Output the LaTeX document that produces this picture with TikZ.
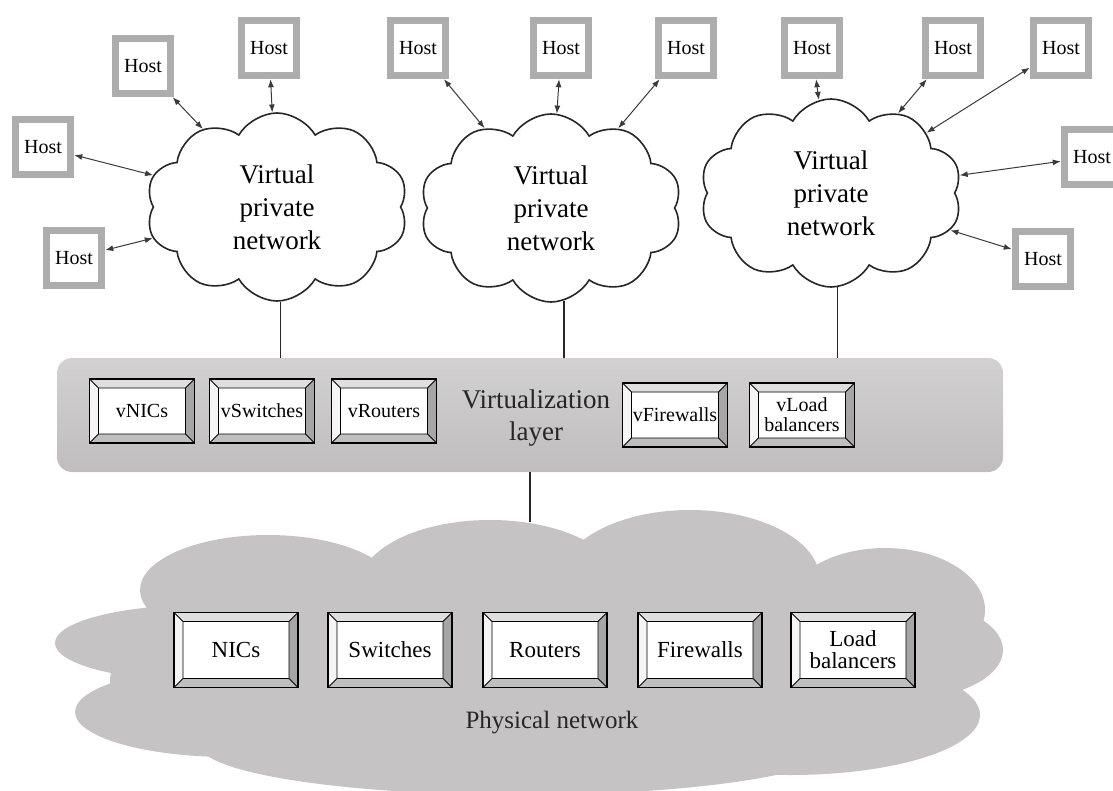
\documentclass[tikz,border=0pt]{standalone}
\usepackage{fontspec}
\setmainfont{Liberation Serif}
\usetikzlibrary{shapes.symbols,arrows.meta,positioning}
\definecolor{hostgray}{HTML}{ADADAD}
\definecolor{layergray}{HTML}{BFBDBE}
\definecolor{physgray}{HTML}{C5C3C4}
\definecolor{lnkgray}{HTML}{3A3A3A}
\newcommand{\bevw}{9pt}

\begin{document}
\begin{tikzpicture}[
    x=1pt,y=-1pt,
    host/.style  = {rectangle,draw=hostgray,line width=7.5pt,fill=white,minimum size=55pt,
                    inner sep=0pt,font=\fontsize{20}{22}\selectfont},
    vpn/.style   = {cloud,cloud puffs=10,cloud puff arc=120,aspect=1.4,draw=black!85,line width=1.6pt,
                    fill=white,align=center,inner sep=0pt,minimum width=262pt,minimum height=188pt,
                    font=\fontsize{27}{33}\selectfont},
    bevel/.style = {rectangle,draw=black,line width=1.3pt,fill=white,align=center,inner sep=0pt,
                    path picture={
                      \path (path picture bounding box.north west) coordinate (pa)
                            (path picture bounding box.north east) coordinate (pb)
                            (path picture bounding box.south east) coordinate (pc)
                            (path picture bounding box.south west) coordinate (pd);
                      \path ([shift={(\bevw,-\bevw)}]pa) coordinate (qa)
                            ([shift={(-\bevw,-\bevw)}]pb) coordinate (qb)
                            ([shift={(-\bevw,\bevw)}]pc) coordinate (qc)
                            ([shift={(\bevw,\bevw)}]pd) coordinate (qd);
                      \fill[gray!25] (pa) -- (pb) -- (qb) -- (qa) -- cycle;
                      \fill[gray!70] (pb) -- (pc) -- (qc) -- (qb) -- cycle;
                      \fill[gray!50] (pc) -- (pd) -- (qd) -- (qc) -- cycle;
                      \fill[gray!8]  (pd) -- (pa) -- (qa) -- (qd) -- cycle;
                      \draw[line width=0.8pt] (qa) -- (qb) -- (qc) -- (qd) -- cycle
                            (pa) -- (qa) (pb) -- (qb) (pc) -- (qc) (pd) -- (qd);
                    }},
    vbox/.style  = {bevel,minimum width=105pt,minimum height=64pt,
                    font=\fontsize{20}{22}\selectfont},
    pbox/.style  = {bevel,minimum width=124pt,minimum height=75pt,
                    font=\fontsize{23}{24}\selectfont},
    lnk/.style   = {{Latex[length=8pt,width=6pt]}-{Latex[length=8pt,width=6pt]},lnkgray,line width=1pt},
    wire/.style  = {line width=1.3pt,black!85},
    lab/.style   = {align=center,text=black!85},
  ]
  \useasboundingbox (0,0) rectangle (1113,790);

  % physical network cloud, drawn as a heap of ellipses
  \fill[physgray]
    (268,590) ellipse[x radius=128,y radius=55]
    (490,585) ellipse[x radius=130,y radius=65]
    (690,580) ellipse[x radius=130,y radius=70]
    (885,610) ellipse[x radius=100,y radius=62]
    (900,650) ellipse[x radius=103,y radius=50]
    (200,643) ellipse[x radius=145,y radius=38]
    (230,712) ellipse[x radius=155,y radius=45]
    (530,680) ellipse[x radius=420,y radius=100]
    (520,745) ellipse[x radius=320,y radius=50]
    (790,715) ellipse[x radius=190,y radius=60];
  \coordinate (phys) at (530,522);
  \node[lab,font=\fontsize{25}{28}\selectfont] (physl) at (552,723) {Physical network};

  \node[pbox] (nic) at (236,650) {NICs};
  \node[pbox] (sw)  at (390,650) {Switches};
  \node[pbox] (rt)  at (545,650) {Routers};
  \node[pbox] (fw)  at (700,650) {Firewalls};
  \node[pbox] (lb)  at (853,650) {Load\\[-2pt]balancers};

  % virtualization layer
  \node[rectangle,rounded corners=15pt,top color=layergray!70,bottom color=layergray,
        minimum width=946pt,minimum height=114pt] (layer) at (530,415) {};
  \node[lab,font=\fontsize{27}{32}\selectfont] (layerl) at (536,418) {Virtualization\\layer};

  \node[vbox] (vnic) at (142,411) {vNICs};
  \node[vbox] (vsw)  at (262,411) {vSwitches};
  \node[vbox] (vrt)  at (384,411) {vRouters};
  \node[vbox] (vfw)  at (675,415) {vFirewalls};
  \node[vbox] (vlb)  at (802,415) {vLoad\\[-2pt]balancers};

  % virtual private networks
  \node[vpn] (vpn1) at (277,207) {Virtual\\private\\network};
  \node[vpn] (vpn2) at (551,208) {Virtual\\private\\network};
  \node[vpn] (vpn3) at (831,193) {Virtual\\private\\network};

  \draw[wire] (vpn1.-88) -- (vpn1.-88 |- layer.north);
  \draw[wire] (vpn2.-82) -- (vpn2.-82 |- layer.north);
  \draw[wire] (vpn3.-86) -- (vpn3.-86 |- layer.north);
  \draw[wire] (layer.south) -- (phys);

  % hosts
  \node[host] (h1)  at (143,66)  {Host};
  \node[host] (h2)  at (269,48)  {Host};
  \node[host] (h3)  at (43,147)  {Host};
  \node[host] (h4)  at (74,258)  {Host};
  \node[host] (h5)  at (418,48)  {Host};
  \node[host] (h6)  at (561,48)  {Host};
  \node[host] (h7)  at (686,48)  {Host};
  \node[host] (h8)  at (812,48)  {Host};
  \node[host] (h9)  at (953,48)  {Host};
  \node[host] (h10) at (1061,48) {Host};
  \node[host] (h11) at (1092,157){Host};
  \node[host] (h12) at (1043,259){Host};

  \draw[lnk] (h1) -- (vpn1);
  \draw[lnk] (h2) -- (vpn1);
  \draw[lnk] (h3) -- (vpn1);
  \draw[lnk] (h4) -- (vpn1);
  \draw[lnk] (h5) -- (vpn2);
  \draw[lnk] (h6) -- (vpn2);
  \draw[lnk] (h7) -- (vpn2);
  \draw[lnk] (h8) -- (vpn3);
  \draw[lnk] (h9) -- (vpn3);
  \draw[lnk] (h10) -- (vpn3);
  \draw[lnk] (h11) -- (vpn3);
  \draw[lnk] (h12) -- (vpn3);

\end{tikzpicture}
\end{document}
